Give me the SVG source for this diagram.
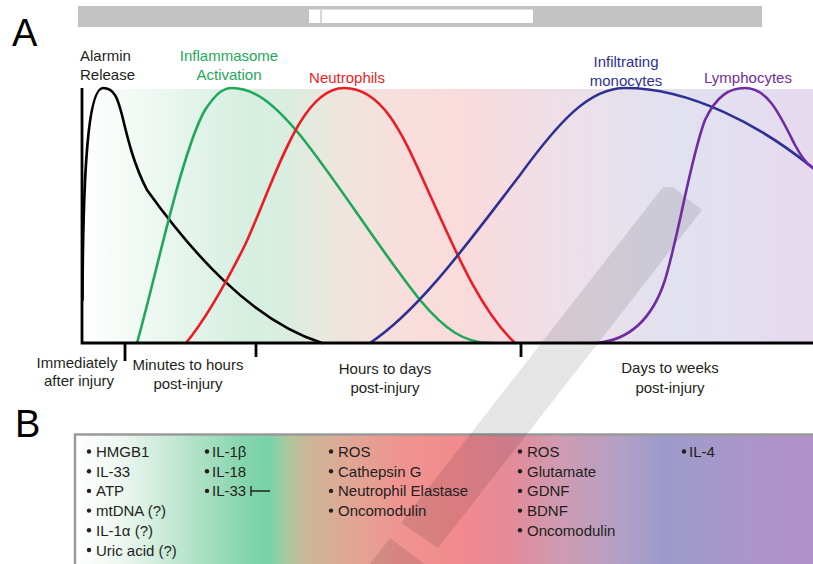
<svg xmlns="http://www.w3.org/2000/svg" width="813" height="564" viewBox="0 0 813 564">
  <defs>
    <style>
      .t { font-family: "Liberation Sans", Arial, sans-serif; font-size: 15px; fill: #231f20; }
      .mid { text-anchor: middle; }
      .big { font-family: "Liberation Sans", Arial, sans-serif; font-size: 38px; fill: #000; }
      .curve { fill: none; stroke-width: 2.6; stroke-linecap: round; stroke-linejoin: round; }
      .axis { fill: none; stroke: #000; stroke-width: 2.8; }
      .dot { fill: #231f20; }
    </style>
    <linearGradient id="gradA" gradientUnits="userSpaceOnUse" x1="82" y1="0" x2="813" y2="0">
      <stop offset="0" stop-color="#ffffff"/>
      <stop offset="0.093" stop-color="#eef8f2"/>
      <stop offset="0.223" stop-color="#d6efe1"/>
      <stop offset="0.278" stop-color="#d9eee0"/>
      <stop offset="0.339" stop-color="#ebe7de"/>
      <stop offset="0.435" stop-color="#f8dedc"/>
      <stop offset="0.531" stop-color="#f9dbdc"/>
      <stop offset="0.627" stop-color="#f0dee6"/>
      <stop offset="0.722" stop-color="#e8e1ec"/>
      <stop offset="0.818" stop-color="#e1e1f0"/>
      <stop offset="0.900" stop-color="#e4dff0"/>
      <stop offset="1" stop-color="#e6d9ee"/>
    </linearGradient>
    <linearGradient id="gradB" gradientUnits="userSpaceOnUse" x1="75" y1="0" x2="813" y2="0">
      <stop offset="0" stop-color="#ffffff"/>
      <stop offset="0.061" stop-color="#eef7f1"/>
      <stop offset="0.156" stop-color="#b5e3ca"/>
      <stop offset="0.230" stop-color="#84d5ae"/>
      <stop offset="0.264" stop-color="#78d2a8"/>
      <stop offset="0.285" stop-color="#a8c9a0"/>
      <stop offset="0.312" stop-color="#c9b898"/>
      <stop offset="0.359" stop-color="#ddaa96"/>
      <stop offset="0.440" stop-color="#ef9490"/>
      <stop offset="0.522" stop-color="#f28a8e"/>
      <stop offset="0.589" stop-color="#e48a98"/>
      <stop offset="0.657" stop-color="#cf9bb2"/>
      <stop offset="0.738" stop-color="#b4a0c6"/>
      <stop offset="0.799" stop-color="#9c9acb"/>
      <stop offset="0.846" stop-color="#a39ac9"/>
      <stop offset="0.928" stop-color="#ae94ca"/>
      <stop offset="1" stop-color="#b290c8"/>
    </linearGradient>
  </defs>

  <rect width="813" height="564" fill="#ffffff"/>

  <!-- header bar -->
  <g id="header-bar">
    <rect x="78" y="6" width="684" height="21" fill="#c3c3c3"/>
    <rect x="309" y="9.5" width="224" height="13.5" fill="#ffffff"/>
    <rect x="320" y="9.5" width="2" height="13.5" fill="#d8d8d8"/>
  </g>

  <!-- panel letters -->
  <text class="big" x="12" y="46">A</text>
  <text class="big" x="15" y="437">B</text>

  <!-- backgrounds -->
  <rect id="panel-a-bg" x="82" y="89" width="731" height="254" fill="url(#gradA)"/>
  <rect id="panel-b-box" x="75" y="434.5" width="760" height="150" fill="url(#gradB)" stroke="#9a9a9a" stroke-width="2.5"/>

  <!-- translucent diagonal stripe -->
  <g id="stripe" fill="#000" fill-opacity="0.1">
    <polygon points="663,187 673,187 702,210 438,548 401,523"/>
    <polygon points="390,538 427,566 398,604 360,577"/>
  </g>

  <!-- response curves -->
  <g id="series-alarmin">
    <path class="curve" stroke="#000000" d="M82.5,300 C83,170 88,88 103,88 C115,88 118,100 122,115 C128,140 134,165 147,190 C190,250 250,320 322,343"/>
    <text class="t" x="80" y="61">Alarmin</text>
    <text class="t" x="80" y="80">Release</text>
  </g>
  <g id="series-inflammasome">
    <path class="curve" stroke="#1fa85a" d="M137,343 C155,280 182,150 205,110 C215,95 222,88 232,88 C255,88 275,105 300,135 C340,185 380,250 420,300 C445,330 465,343 490,343"/>
    <text class="t mid" x="229" y="61" style="fill:#1fa85a">Inflammasome</text>
    <text class="t mid" x="229" y="80" style="fill:#1fa85a">Activation</text>
  </g>
  <g id="series-neutrophils">
    <path class="curve" stroke="#ec1c24" d="M186,343 C205,320 225,285 245,245 C275,180 300,88 344,88 C385,88 405,140 430,195 C455,250 480,310 515,343"/>
    <text class="t mid" x="347" y="83" style="fill:#ec1c24">Neutrophils</text>
  </g>
  <g id="series-monocytes">
    <path class="curve" stroke="#2e3192" d="M370,343 C420,310 470,240 520,175 C560,120 590,88 625,88 C690,88 760,125 813,168"/>
    <text class="t mid" x="626" y="67" style="fill:#2e3192">Infiltrating</text>
    <text class="t mid" x="626" y="86" style="fill:#2e3192">monocytes</text>
  </g>
  <g id="series-lymphocytes">
    <path class="curve" stroke="#6f2da0" d="M597,343 C628,340 652,320 665,280 C680,230 690,160 705,120 C717,95 730,88 745,88 C768,88 780,115 795,145 C803,160 808,165 813,168"/>
    <text class="t mid" x="748" y="83" style="fill:#6f2da0">Lymphocytes</text>
  </g>

  <!-- axes and time ticks -->
  <g id="axes">
    <path class="axis" d="M82,88 V343 H813"/>
    <path class="axis" d="M125,343 V361 M256,343 V357 M521,343 V357"/>
  </g>

  <!-- time period labels -->
  <g id="time-labels">
    <text class="t mid" x="77" y="368">Immediately</text>
    <text class="t mid" x="79" y="386">after injury</text>
    <text class="t mid" x="188" y="370">Minutes to hours</text>
    <text class="t mid" x="188" y="389">post-injury</text>
    <text class="t mid" x="385" y="374">Hours to days</text>
    <text class="t mid" x="385" y="393">post-injury</text>
    <text class="t mid" x="670" y="373">Days to weeks</text>
    <text class="t mid" x="670" y="393">post-injury</text>
  </g>

  <!-- mediator lists -->
  <g id="list-alarmins">
    <circle class="dot" cx="89" cy="451.5" r="2.2"/>
    <circle class="dot" cx="89" cy="471.2" r="2.2"/>
    <circle class="dot" cx="89" cy="490.9" r="2.2"/>
    <circle class="dot" cx="89" cy="510.6" r="2.2"/>
    <circle class="dot" cx="89" cy="530.3" r="2.2"/>
    <circle class="dot" cx="89" cy="550" r="2.2"/>
    <text class="t" x="96" y="457">HMGB1</text>
    <text class="t" x="96" y="476.7">IL-33</text>
    <text class="t" x="96" y="496.4">ATP</text>
    <text class="t" x="96" y="516.1">mtDNA (?)</text>
    <text class="t" x="96" y="535.8">IL-1α (?)</text>
    <text class="t" x="96" y="555.5">Uric acid (?)</text>
  </g>
  <g id="list-inflammasome">
    <circle class="dot" cx="207" cy="451.5" r="2.2"/>
    <circle class="dot" cx="207" cy="471.2" r="2.2"/>
    <circle class="dot" cx="207" cy="490.9" r="2.2"/>
    <text class="t" x="212" y="457">IL-1β</text>
    <text class="t" x="212" y="476.7">IL-18</text>
    <text class="t" x="212" y="496.4">IL-33</text>
    <path d="M251,486 V496 M251,491 H270" fill="none" stroke="#231f20" stroke-width="1.4"/>
  </g>
  <g id="list-neutrophils">
    <circle class="dot" cx="331" cy="451.5" r="2.2"/>
    <circle class="dot" cx="331" cy="471.2" r="2.2"/>
    <circle class="dot" cx="331" cy="490.9" r="2.2"/>
    <circle class="dot" cx="331" cy="510.6" r="2.2"/>
    <text class="t" x="338" y="457">ROS</text>
    <text class="t" x="338" y="476.7">Cathepsin G</text>
    <text class="t" x="338" y="496.4">Neutrophil Elastase</text>
    <text class="t" x="338" y="516.1">Oncomodulin</text>
  </g>
  <g id="list-monocytes">
    <circle class="dot" cx="520" cy="451.5" r="2.2"/>
    <circle class="dot" cx="520" cy="471.2" r="2.2"/>
    <circle class="dot" cx="520" cy="490.9" r="2.2"/>
    <circle class="dot" cx="520" cy="510.6" r="2.2"/>
    <circle class="dot" cx="520" cy="530.3" r="2.2"/>
    <text class="t" x="527" y="457">ROS</text>
    <text class="t" x="527" y="476.7">Glutamate</text>
    <text class="t" x="527" y="496.4">GDNF</text>
    <text class="t" x="527" y="516.1">BDNF</text>
    <text class="t" x="527" y="535.8">Oncomodulin</text>
  </g>
  <g id="list-lymphocytes">
    <circle class="dot" cx="684" cy="451.5" r="2.2"/>
    <text class="t" x="689" y="457">IL-4</text>
  </g>
</svg>
